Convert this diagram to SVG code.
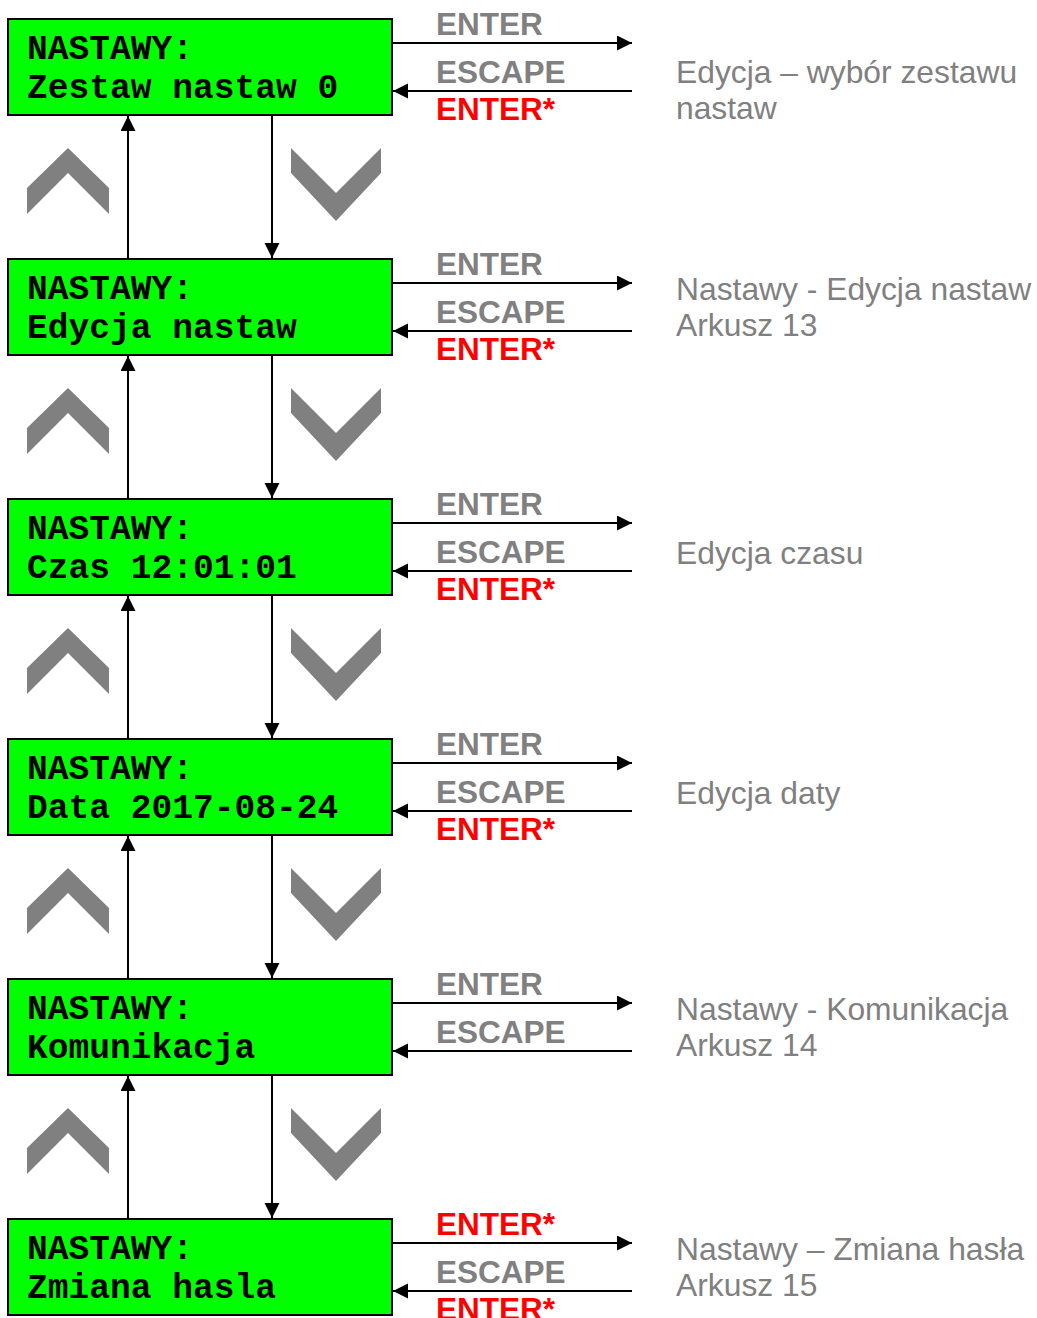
<svg xmlns="http://www.w3.org/2000/svg" width="1037" height="1318" viewBox="0 0 1037 1318">
<style>
.box{fill:#00ff00;stroke:#000;stroke-width:2}
.lcd{font-family:"Liberation Mono","Courier New",monospace;font-weight:bold;font-size:34.6px;fill:#000}
.key{font-family:"Liberation Sans",Arial,sans-serif;font-weight:bold;font-size:31.5px;fill:#808080}
.red{fill:#ff0000}
.desc{font-family:"Liberation Sans",Arial,sans-serif;font-size:31.8px;fill:#808080}
.ln{stroke:#000;stroke-width:2;fill:none}
.chev{fill:#808080}
</style>
<defs>
<marker id="ah" markerUnits="userSpaceOnUse" markerWidth="16" markerHeight="16" refX="15" refY="7.5" orient="auto">
<path d="M0,0 L15,7.5 L0,15 z" fill="#000"/>
</marker>
<polygon id="up" points="27,188 68,148 109,188 109,214 68,173 27,214"/>
<polygon id="down" points="291,148 336,193 381,148 381,173 336,221 291,173"/>
</defs>
<rect width="1037" height="1318" fill="#fff"/>

<g id="chevrons" class="chev">
<use href="#up"/><use href="#down"/>
<use href="#up" y="240"/><use href="#down" y="240"/>
<use href="#up" y="480"/><use href="#down" y="480"/>
<use href="#up" y="720"/><use href="#down" y="720"/>
<use href="#up" y="960"/><use href="#down" y="960"/>
</g>

<g id="connectors" class="ln">
<line x1="128" y1="259" x2="128" y2="116" marker-end="url(#ah)"/>
<line x1="272" y1="115" x2="272" y2="258" marker-end="url(#ah)"/>
<line x1="128" y1="499" x2="128" y2="356" marker-end="url(#ah)"/>
<line x1="272" y1="355" x2="272" y2="498" marker-end="url(#ah)"/>
<line x1="128" y1="739" x2="128" y2="596" marker-end="url(#ah)"/>
<line x1="272" y1="595" x2="272" y2="738" marker-end="url(#ah)"/>
<line x1="128" y1="979" x2="128" y2="836" marker-end="url(#ah)"/>
<line x1="272" y1="835" x2="272" y2="978" marker-end="url(#ah)"/>
<line x1="128" y1="1219" x2="128" y2="1076" marker-end="url(#ah)"/>
<line x1="272" y1="1075" x2="272" y2="1218" marker-end="url(#ah)"/>

<line x1="392" y1="43" x2="632" y2="43" marker-end="url(#ah)"/>
<line x1="632" y1="91" x2="393" y2="91" marker-end="url(#ah)"/>
<line x1="392" y1="283" x2="632" y2="283" marker-end="url(#ah)"/>
<line x1="632" y1="331" x2="393" y2="331" marker-end="url(#ah)"/>
<line x1="392" y1="523" x2="632" y2="523" marker-end="url(#ah)"/>
<line x1="632" y1="571" x2="393" y2="571" marker-end="url(#ah)"/>
<line x1="392" y1="763" x2="632" y2="763" marker-end="url(#ah)"/>
<line x1="632" y1="811" x2="393" y2="811" marker-end="url(#ah)"/>
<line x1="392" y1="1003" x2="632" y2="1003" marker-end="url(#ah)"/>
<line x1="632" y1="1051" x2="393" y2="1051" marker-end="url(#ah)"/>
<line x1="392" y1="1243" x2="632" y2="1243" marker-end="url(#ah)"/>
<line x1="632" y1="1291" x2="393" y2="1291" marker-end="url(#ah)"/>
</g>

<g id="node1">
<rect class="box" x="8" y="19" width="384" height="96"/>
<text class="lcd" x="27" y="59">NASTAWY:</text>
<text class="lcd" x="27" y="98">Zestaw nastaw 0</text>
<text class="key" x="436" y="35">ENTER</text>
<text class="key" x="436" y="83">ESCAPE</text>
<text class="key red" x="436" y="120">ENTER*</text>
<text class="desc" x="676" y="83">Edycja – wybór zestawu</text>
<text class="desc" x="676" y="119">nastaw</text>
</g>

<g id="node2">
<rect class="box" x="8" y="259" width="384" height="96"/>
<text class="lcd" x="27" y="299">NASTAWY:</text>
<text class="lcd" x="27" y="338">Edycja nastaw</text>
<text class="key" x="436" y="275">ENTER</text>
<text class="key" x="436" y="323">ESCAPE</text>
<text class="key red" x="436" y="360">ENTER*</text>
<text class="desc" x="676" y="300">Nastawy - Edycja nastaw</text>
<text class="desc" x="676" y="336">Arkusz 13</text>
</g>

<g id="node3">
<rect class="box" x="8" y="499" width="384" height="96"/>
<text class="lcd" x="27" y="539">NASTAWY:</text>
<text class="lcd" x="27" y="578">Czas 12:01:01</text>
<text class="key" x="436" y="515">ENTER</text>
<text class="key" x="436" y="563">ESCAPE</text>
<text class="key red" x="436" y="600">ENTER*</text>
<text class="desc" x="676" y="564">Edycja czasu</text>
</g>

<g id="node4">
<rect class="box" x="8" y="739" width="384" height="96"/>
<text class="lcd" x="27" y="779">NASTAWY:</text>
<text class="lcd" x="27" y="818">Data 2017-08-24</text>
<text class="key" x="436" y="755">ENTER</text>
<text class="key" x="436" y="803">ESCAPE</text>
<text class="key red" x="436" y="840">ENTER*</text>
<text class="desc" x="676" y="804">Edycja daty</text>
</g>

<g id="node5">
<rect class="box" x="8" y="979" width="384" height="96"/>
<text class="lcd" x="27" y="1019">NASTAWY:</text>
<text class="lcd" x="27" y="1058">Komunikacja</text>
<text class="key" x="436" y="995">ENTER</text>
<text class="key" x="436" y="1043">ESCAPE</text>
<text class="desc" x="676" y="1020">Nastawy - Komunikacja</text>
<text class="desc" x="676" y="1056">Arkusz 14</text>
</g>

<g id="node6">
<rect class="box" x="8" y="1219" width="384" height="96"/>
<text class="lcd" x="27" y="1259">NASTAWY:</text>
<text class="lcd" x="27" y="1298">Zmiana hasla</text>
<text class="key red" x="436" y="1235">ENTER*</text>
<text class="key" x="436" y="1283">ESCAPE</text>
<text class="key red" x="436" y="1320">ENTER*</text>
<text class="desc" x="676" y="1260">Nastawy – Zmiana hasła</text>
<text class="desc" x="676" y="1296">Arkusz 15</text>
</g>
</svg>
